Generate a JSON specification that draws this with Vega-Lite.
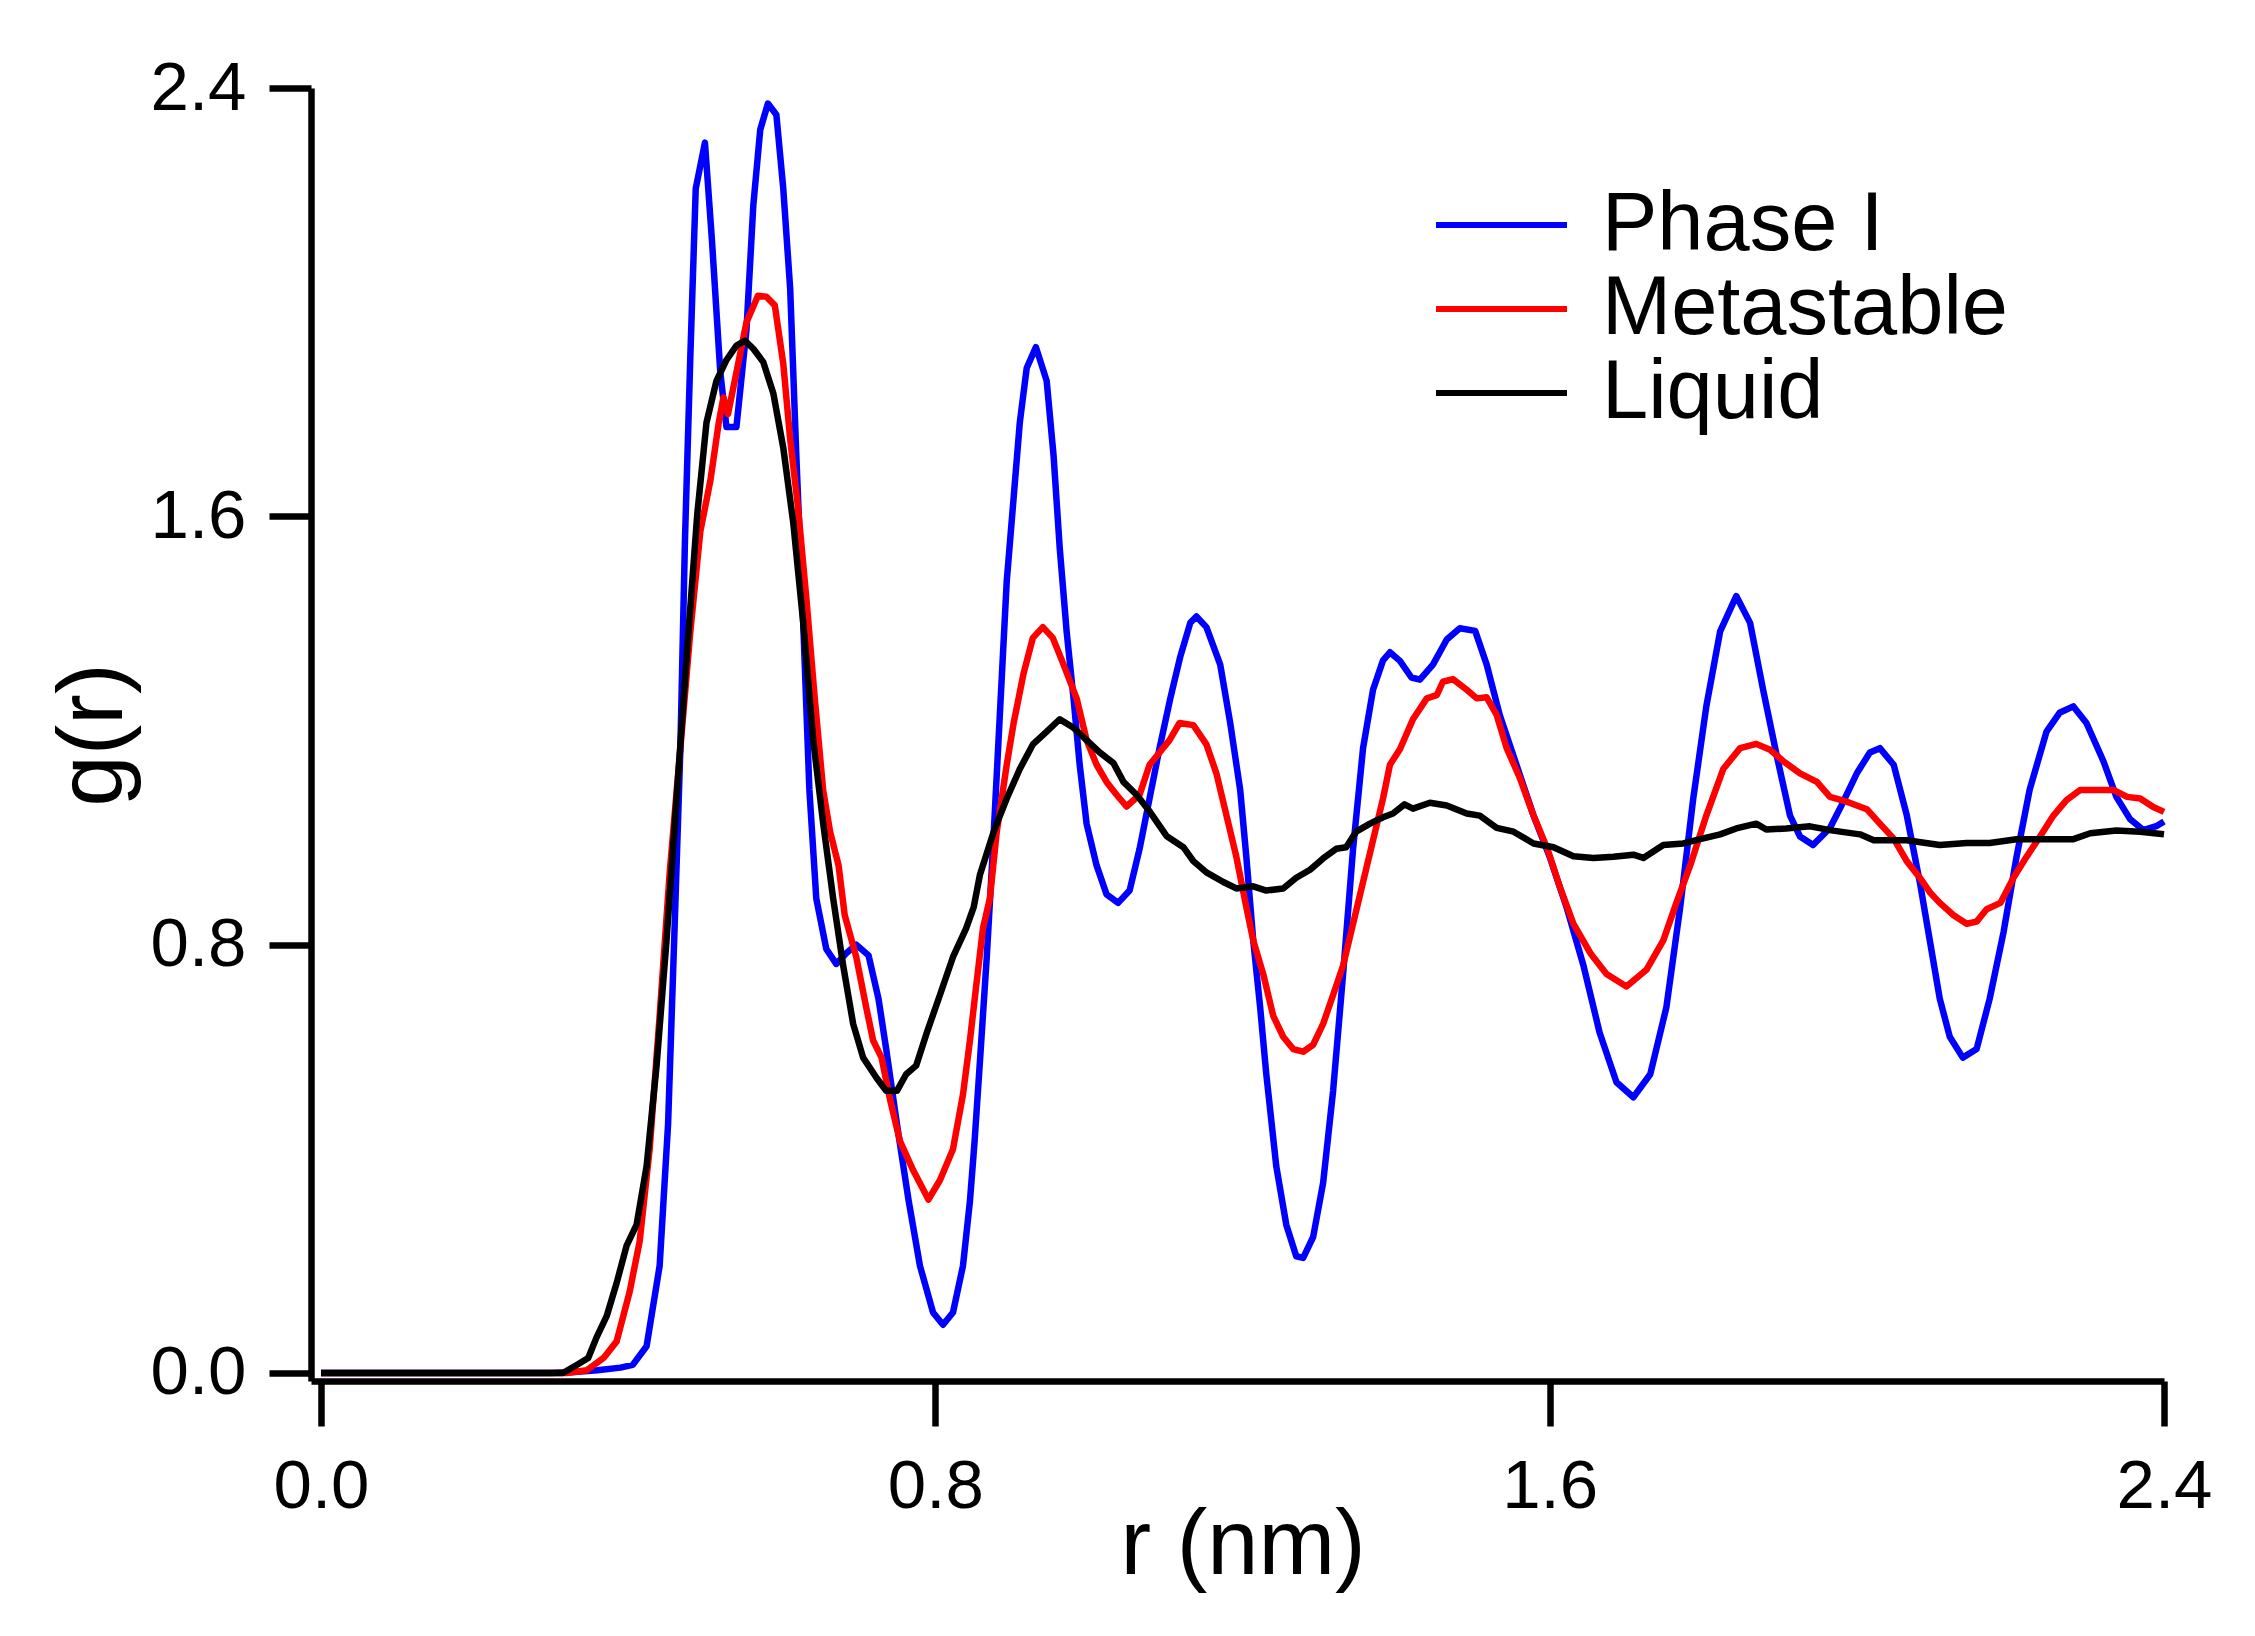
{
  "$schema": "https://vega.github.io/schema/vega-lite/v6.json",
  "width": 1853,
  "height": 1293,
  "autosize": {"type": "none"},
  "padding": {"left": 311, "top": 88, "right": 91, "bottom": 255},
  "background": "white",
  "config": {
    "view": {"stroke": null},
    "font": "Liberation Sans",
    "axis": {
      "grid": false,
      "domainColor": "black",
      "domainWidth": 6.5,
      "tickColor": "black",
      "tickWidth": 6.5,
      "labelFont": "Liberation Sans",
      "labelFontSize": 69,
      "labelColor": "black",
      "titleFont": "Liberation Sans",
      "titleFontSize": 92,
      "titleFontWeight": "normal",
      "titleColor": "black",
      "labelOverlap": false,
      "labelFlush": false,
      "labelBound": false
    },
    "legend": {
      "labelFont": "Liberation Sans",
      "labelFontSize": 83,
      "labelColor": "black",
      "labelLimit": 0
    }
  },
  "data": {
    "values": [
      {"r": 0, "g": 0, "phase": "Phase I"},
      {"r": 0.30, "g": 0, "phase": "Phase I"},
      {"r": 0.33, "g": 0.002, "phase": "Phase I"},
      {"r": 0.36, "g": 0.005, "phase": "Phase I"},
      {"r": 0.39, "g": 0.01, "phase": "Phase I"},
      {"r": 0.406, "g": 0.015, "phase": "Phase I"},
      {"r": 0.424, "g": 0.05, "phase": "Phase I"},
      {"r": 0.441, "g": 0.2, "phase": "Phase I"},
      {"r": 0.452, "g": 0.465, "phase": "Phase I"},
      {"r": 0.461, "g": 0.855, "phase": "Phase I"},
      {"r": 0.468, "g": 1.167, "phase": "Phase I"},
      {"r": 0.474, "g": 1.557, "phase": "Phase I"},
      {"r": 0.481, "g": 1.90, "phase": "Phase I"},
      {"r": 0.488, "g": 2.212, "phase": "Phase I"},
      {"r": 0.500, "g": 2.298, "phase": "Phase I"},
      {"r": 0.509, "g": 2.118, "phase": "Phase I"},
      {"r": 0.520, "g": 1.869, "phase": "Phase I"},
      {"r": 0.528, "g": 1.767, "phase": "Phase I"},
      {"r": 0.541, "g": 1.767, "phase": "Phase I"},
      {"r": 0.554, "g": 1.947, "phase": "Phase I"},
      {"r": 0.563, "g": 2.181, "phase": "Phase I"},
      {"r": 0.572, "g": 2.322, "phase": "Phase I"},
      {"r": 0.582, "g": 2.371, "phase": "Phase I"},
      {"r": 0.593, "g": 2.35, "phase": "Phase I"},
      {"r": 0.602, "g": 2.212, "phase": "Phase I"},
      {"r": 0.611, "g": 2.025, "phase": "Phase I"},
      {"r": 0.619, "g": 1.713, "phase": "Phase I"},
      {"r": 0.628, "g": 1.40, "phase": "Phase I"},
      {"r": 0.636, "g": 1.089, "phase": "Phase I"},
      {"r": 0.645, "g": 0.886, "phase": "Phase I"},
      {"r": 0.658, "g": 0.792, "phase": "Phase I"},
      {"r": 0.671, "g": 0.764, "phase": "Phase I"},
      {"r": 0.684, "g": 0.784, "phase": "Phase I"},
      {"r": 0.697, "g": 0.80, "phase": "Phase I"},
      {"r": 0.713, "g": 0.78, "phase": "Phase I"},
      {"r": 0.726, "g": 0.699, "phase": "Phase I"},
      {"r": 0.736, "g": 0.605, "phase": "Phase I"},
      {"r": 0.750, "g": 0.465, "phase": "Phase I"},
      {"r": 0.765, "g": 0.324, "phase": "Phase I"},
      {"r": 0.780, "g": 0.20, "phase": "Phase I"},
      {"r": 0.797, "g": 0.113, "phase": "Phase I"},
      {"r": 0.810, "g": 0.09, "phase": "Phase I"},
      {"r": 0.823, "g": 0.113, "phase": "Phase I"},
      {"r": 0.836, "g": 0.20, "phase": "Phase I"},
      {"r": 0.845, "g": 0.32, "phase": "Phase I"},
      {"r": 0.851, "g": 0.43, "phase": "Phase I"},
      {"r": 0.858, "g": 0.58, "phase": "Phase I"},
      {"r": 0.867, "g": 0.777, "phase": "Phase I"},
      {"r": 0.875, "g": 0.979, "phase": "Phase I"},
      {"r": 0.884, "g": 1.229, "phase": "Phase I"},
      {"r": 0.893, "g": 1.479, "phase": "Phase I"},
      {"r": 0.902, "g": 1.635, "phase": "Phase I"},
      {"r": 0.910, "g": 1.775, "phase": "Phase I"},
      {"r": 0.919, "g": 1.877, "phase": "Phase I"},
      {"r": 0.931, "g": 1.916, "phase": "Phase I"},
      {"r": 0.945, "g": 1.853, "phase": "Phase I"},
      {"r": 0.954, "g": 1.713, "phase": "Phase I"},
      {"r": 0.962, "g": 1.541, "phase": "Phase I"},
      {"r": 0.971, "g": 1.385, "phase": "Phase I"},
      {"r": 0.980, "g": 1.260, "phase": "Phase I"},
      {"r": 0.988, "g": 1.136, "phase": "Phase I"},
      {"r": 0.997, "g": 1.026, "phase": "Phase I"},
      {"r": 1.010, "g": 0.948, "phase": "Phase I"},
      {"r": 1.023, "g": 0.894, "phase": "Phase I"},
      {"r": 1.038, "g": 0.878, "phase": "Phase I"},
      {"r": 1.053, "g": 0.901, "phase": "Phase I"},
      {"r": 1.066, "g": 0.979, "phase": "Phase I"},
      {"r": 1.079, "g": 1.073, "phase": "Phase I"},
      {"r": 1.092, "g": 1.167, "phase": "Phase I"},
      {"r": 1.106, "g": 1.260, "phase": "Phase I"},
      {"r": 1.119, "g": 1.338, "phase": "Phase I"},
      {"r": 1.132, "g": 1.401, "phase": "Phase I"},
      {"r": 1.140, "g": 1.413, "phase": "Phase I"},
      {"r": 1.153, "g": 1.393, "phase": "Phase I"},
      {"r": 1.171, "g": 1.323, "phase": "Phase I"},
      {"r": 1.184, "g": 1.214, "phase": "Phase I"},
      {"r": 1.197, "g": 1.089, "phase": "Phase I"},
      {"r": 1.205, "g": 0.964, "phase": "Phase I"},
      {"r": 1.214, "g": 0.808, "phase": "Phase I"},
      {"r": 1.223, "g": 0.683, "phase": "Phase I"},
      {"r": 1.231, "g": 0.558, "phase": "Phase I"},
      {"r": 1.244, "g": 0.386, "phase": "Phase I"},
      {"r": 1.257, "g": 0.277, "phase": "Phase I"},
      {"r": 1.270, "g": 0.218, "phase": "Phase I"},
      {"r": 1.279, "g": 0.215, "phase": "Phase I"},
      {"r": 1.292, "g": 0.254, "phase": "Phase I"},
      {"r": 1.305, "g": 0.355, "phase": "Phase I"},
      {"r": 1.318, "g": 0.527, "phase": "Phase I"},
      {"r": 1.331, "g": 0.745, "phase": "Phase I"},
      {"r": 1.344, "g": 0.979, "phase": "Phase I"},
      {"r": 1.357, "g": 1.167, "phase": "Phase I"},
      {"r": 1.370, "g": 1.276, "phase": "Phase I"},
      {"r": 1.383, "g": 1.331, "phase": "Phase I"},
      {"r": 1.392, "g": 1.346, "phase": "Phase I"},
      {"r": 1.405, "g": 1.33, "phase": "Phase I"},
      {"r": 1.420, "g": 1.299, "phase": "Phase I"},
      {"r": 1.431, "g": 1.295, "phase": "Phase I"},
      {"r": 1.448, "g": 1.323, "phase": "Phase I"},
      {"r": 1.466, "g": 1.370, "phase": "Phase I"},
      {"r": 1.483, "g": 1.391, "phase": "Phase I"},
      {"r": 1.503, "g": 1.386, "phase": "Phase I"},
      {"r": 1.518, "g": 1.323, "phase": "Phase I"},
      {"r": 1.535, "g": 1.229, "phase": "Phase I"},
      {"r": 1.557, "g": 1.135, "phase": "Phase I"},
      {"r": 1.579, "g": 1.041, "phase": "Phase I"},
      {"r": 1.600, "g": 0.964, "phase": "Phase I"},
      {"r": 1.622, "g": 0.870, "phase": "Phase I"},
      {"r": 1.644, "g": 0.761, "phase": "Phase I"},
      {"r": 1.665, "g": 0.636, "phase": "Phase I"},
      {"r": 1.687, "g": 0.543, "phase": "Phase I"},
      {"r": 1.709, "g": 0.515, "phase": "Phase I"},
      {"r": 1.731, "g": 0.558, "phase": "Phase I"},
      {"r": 1.752, "g": 0.683, "phase": "Phase I"},
      {"r": 1.770, "g": 0.870, "phase": "Phase I"},
      {"r": 1.787, "g": 1.073, "phase": "Phase I"},
      {"r": 1.804, "g": 1.245, "phase": "Phase I"},
      {"r": 1.822, "g": 1.385, "phase": "Phase I"},
      {"r": 1.843, "g": 1.451, "phase": "Phase I"},
      {"r": 1.861, "g": 1.401, "phase": "Phase I"},
      {"r": 1.878, "g": 1.276, "phase": "Phase I"},
      {"r": 1.896, "g": 1.151, "phase": "Phase I"},
      {"r": 1.913, "g": 1.041, "phase": "Phase I"},
      {"r": 1.926, "g": 1.002, "phase": "Phase I"},
      {"r": 1.943, "g": 0.986, "phase": "Phase I"},
      {"r": 1.965, "g": 1.018, "phase": "Phase I"},
      {"r": 1.980, "g": 1.06, "phase": "Phase I"},
      {"r": 2.000, "g": 1.12, "phase": "Phase I"},
      {"r": 2.017, "g": 1.159, "phase": "Phase I"},
      {"r": 2.030, "g": 1.167, "phase": "Phase I"},
      {"r": 2.048, "g": 1.136, "phase": "Phase I"},
      {"r": 2.065, "g": 1.042, "phase": "Phase I"},
      {"r": 2.082, "g": 0.917, "phase": "Phase I"},
      {"r": 2.095, "g": 0.808, "phase": "Phase I"},
      {"r": 2.108, "g": 0.699, "phase": "Phase I"},
      {"r": 2.121, "g": 0.628, "phase": "Phase I"},
      {"r": 2.138, "g": 0.589, "phase": "Phase I"},
      {"r": 2.156, "g": 0.605, "phase": "Phase I"},
      {"r": 2.173, "g": 0.699, "phase": "Phase I"},
      {"r": 2.191, "g": 0.823, "phase": "Phase I"},
      {"r": 2.208, "g": 0.964, "phase": "Phase I"},
      {"r": 2.225, "g": 1.089, "phase": "Phase I"},
      {"r": 2.247, "g": 1.198, "phase": "Phase I"},
      {"r": 2.264, "g": 1.233, "phase": "Phase I"},
      {"r": 2.282, "g": 1.245, "phase": "Phase I"},
      {"r": 2.299, "g": 1.214, "phase": "Phase I"},
      {"r": 2.321, "g": 1.143, "phase": "Phase I"},
      {"r": 2.338, "g": 1.076, "phase": "Phase I"},
      {"r": 2.356, "g": 1.034, "phase": "Phase I"},
      {"r": 2.373, "g": 1.014, "phase": "Phase I"},
      {"r": 2.391, "g": 1.022, "phase": "Phase I"},
      {"r": 2.400, "g": 1.03, "phase": "Phase I"},

      {"r": 0, "g": 0, "phase": "Metastable"},
      {"r": 0.32, "g": 0, "phase": "Metastable"},
      {"r": 0.346, "g": 0.005, "phase": "Metastable"},
      {"r": 0.368, "g": 0.028, "phase": "Metastable"},
      {"r": 0.385, "g": 0.059, "phase": "Metastable"},
      {"r": 0.402, "g": 0.152, "phase": "Metastable"},
      {"r": 0.415, "g": 0.246, "phase": "Metastable"},
      {"r": 0.428, "g": 0.418, "phase": "Metastable"},
      {"r": 0.441, "g": 0.667, "phase": "Metastable"},
      {"r": 0.454, "g": 0.933, "phase": "Metastable"},
      {"r": 0.467, "g": 1.151, "phase": "Metastable"},
      {"r": 0.481, "g": 1.385, "phase": "Metastable"},
      {"r": 0.494, "g": 1.572, "phase": "Metastable"},
      {"r": 0.507, "g": 1.666, "phase": "Metastable"},
      {"r": 0.518, "g": 1.775, "phase": "Metastable"},
      {"r": 0.524, "g": 1.822, "phase": "Metastable"},
      {"r": 0.530, "g": 1.791, "phase": "Metastable"},
      {"r": 0.541, "g": 1.869, "phase": "Metastable"},
      {"r": 0.554, "g": 1.962, "phase": "Metastable"},
      {"r": 0.569, "g": 2.012, "phase": "Metastable"},
      {"r": 0.580, "g": 2.01, "phase": "Metastable"},
      {"r": 0.591, "g": 1.994, "phase": "Metastable"},
      {"r": 0.602, "g": 1.885, "phase": "Metastable"},
      {"r": 0.611, "g": 1.744, "phase": "Metastable"},
      {"r": 0.621, "g": 1.619, "phase": "Metastable"},
      {"r": 0.632, "g": 1.448, "phase": "Metastable"},
      {"r": 0.643, "g": 1.26, "phase": "Metastable"},
      {"r": 0.654, "g": 1.088, "phase": "Metastable"},
      {"r": 0.663, "g": 1.011, "phase": "Metastable"},
      {"r": 0.674, "g": 0.948, "phase": "Metastable"},
      {"r": 0.682, "g": 0.855, "phase": "Metastable"},
      {"r": 0.697, "g": 0.777, "phase": "Metastable"},
      {"r": 0.710, "g": 0.683, "phase": "Metastable"},
      {"r": 0.719, "g": 0.621, "phase": "Metastable"},
      {"r": 0.730, "g": 0.589, "phase": "Metastable"},
      {"r": 0.741, "g": 0.511, "phase": "Metastable"},
      {"r": 0.754, "g": 0.433, "phase": "Metastable"},
      {"r": 0.771, "g": 0.379, "phase": "Metastable"},
      {"r": 0.791, "g": 0.324, "phase": "Metastable"},
      {"r": 0.806, "g": 0.36, "phase": "Metastable"},
      {"r": 0.823, "g": 0.418, "phase": "Metastable"},
      {"r": 0.836, "g": 0.52, "phase": "Metastable"},
      {"r": 0.845, "g": 0.62, "phase": "Metastable"},
      {"r": 0.853, "g": 0.72, "phase": "Metastable"},
      {"r": 0.862, "g": 0.83, "phase": "Metastable"},
      {"r": 0.871, "g": 0.886, "phase": "Metastable"},
      {"r": 0.880, "g": 1.011, "phase": "Metastable"},
      {"r": 0.893, "g": 1.136, "phase": "Metastable"},
      {"r": 0.902, "g": 1.214, "phase": "Metastable"},
      {"r": 0.915, "g": 1.307, "phase": "Metastable"},
      {"r": 0.927, "g": 1.373, "phase": "Metastable"},
      {"r": 0.940, "g": 1.393, "phase": "Metastable"},
      {"r": 0.953, "g": 1.373, "phase": "Metastable"},
      {"r": 0.967, "g": 1.323, "phase": "Metastable"},
      {"r": 0.984, "g": 1.26, "phase": "Metastable"},
      {"r": 0.997, "g": 1.182, "phase": "Metastable"},
      {"r": 1.010, "g": 1.136, "phase": "Metastable"},
      {"r": 1.023, "g": 1.104, "phase": "Metastable"},
      {"r": 1.036, "g": 1.080, "phase": "Metastable"},
      {"r": 1.049, "g": 1.058, "phase": "Metastable"},
      {"r": 1.066, "g": 1.08, "phase": "Metastable"},
      {"r": 1.079, "g": 1.136, "phase": "Metastable"},
      {"r": 1.092, "g": 1.159, "phase": "Metastable"},
      {"r": 1.105, "g": 1.182, "phase": "Metastable"},
      {"r": 1.118, "g": 1.214, "phase": "Metastable"},
      {"r": 1.136, "g": 1.21, "phase": "Metastable"},
      {"r": 1.153, "g": 1.174, "phase": "Metastable"},
      {"r": 1.166, "g": 1.12, "phase": "Metastable"},
      {"r": 1.179, "g": 1.042, "phase": "Metastable"},
      {"r": 1.192, "g": 0.964, "phase": "Metastable"},
      {"r": 1.205, "g": 0.870, "phase": "Metastable"},
      {"r": 1.214, "g": 0.808, "phase": "Metastable"},
      {"r": 1.227, "g": 0.745, "phase": "Metastable"},
      {"r": 1.240, "g": 0.667, "phase": "Metastable"},
      {"r": 1.253, "g": 0.628, "phase": "Metastable"},
      {"r": 1.266, "g": 0.605, "phase": "Metastable"},
      {"r": 1.279, "g": 0.600, "phase": "Metastable"},
      {"r": 1.292, "g": 0.613, "phase": "Metastable"},
      {"r": 1.305, "g": 0.652, "phase": "Metastable"},
      {"r": 1.318, "g": 0.706, "phase": "Metastable"},
      {"r": 1.331, "g": 0.761, "phase": "Metastable"},
      {"r": 1.344, "g": 0.839, "phase": "Metastable"},
      {"r": 1.357, "g": 0.917, "phase": "Metastable"},
      {"r": 1.370, "g": 0.995, "phase": "Metastable"},
      {"r": 1.383, "g": 1.073, "phase": "Metastable"},
      {"r": 1.392, "g": 1.136, "phase": "Metastable"},
      {"r": 1.405, "g": 1.165, "phase": "Metastable"},
      {"r": 1.422, "g": 1.221, "phase": "Metastable"},
      {"r": 1.440, "g": 1.26, "phase": "Metastable"},
      {"r": 1.453, "g": 1.266, "phase": "Metastable"},
      {"r": 1.461, "g": 1.291, "phase": "Metastable"},
      {"r": 1.474, "g": 1.296, "phase": "Metastable"},
      {"r": 1.492, "g": 1.276, "phase": "Metastable"},
      {"r": 1.505, "g": 1.26, "phase": "Metastable"},
      {"r": 1.518, "g": 1.262, "phase": "Metastable"},
      {"r": 1.531, "g": 1.229, "phase": "Metastable"},
      {"r": 1.544, "g": 1.167, "phase": "Metastable"},
      {"r": 1.561, "g": 1.112, "phase": "Metastable"},
      {"r": 1.579, "g": 1.041, "phase": "Metastable"},
      {"r": 1.597, "g": 0.979, "phase": "Metastable"},
      {"r": 1.613, "g": 0.909, "phase": "Metastable"},
      {"r": 1.631, "g": 0.839, "phase": "Metastable"},
      {"r": 1.653, "g": 0.784, "phase": "Metastable"},
      {"r": 1.674, "g": 0.745, "phase": "Metastable"},
      {"r": 1.700, "g": 0.722, "phase": "Metastable"},
      {"r": 1.726, "g": 0.753, "phase": "Metastable"},
      {"r": 1.748, "g": 0.808, "phase": "Metastable"},
      {"r": 1.765, "g": 0.878, "phase": "Metastable"},
      {"r": 1.783, "g": 0.948, "phase": "Metastable"},
      {"r": 1.804, "g": 1.041, "phase": "Metastable"},
      {"r": 1.826, "g": 1.128, "phase": "Metastable"},
      {"r": 1.848, "g": 1.167, "phase": "Metastable"},
      {"r": 1.869, "g": 1.175, "phase": "Metastable"},
      {"r": 1.887, "g": 1.164, "phase": "Metastable"},
      {"r": 1.904, "g": 1.143, "phase": "Metastable"},
      {"r": 1.926, "g": 1.12, "phase": "Metastable"},
      {"r": 1.948, "g": 1.104, "phase": "Metastable"},
      {"r": 1.965, "g": 1.076, "phase": "Metastable"},
      {"r": 1.987, "g": 1.067, "phase": "Metastable"},
      {"r": 2.013, "g": 1.053, "phase": "Metastable"},
      {"r": 2.030, "g": 1.026, "phase": "Metastable"},
      {"r": 2.048, "g": 0.998, "phase": "Metastable"},
      {"r": 2.065, "g": 0.956, "phase": "Metastable"},
      {"r": 2.082, "g": 0.925, "phase": "Metastable"},
      {"r": 2.095, "g": 0.898, "phase": "Metastable"},
      {"r": 2.108, "g": 0.878, "phase": "Metastable"},
      {"r": 2.126, "g": 0.855, "phase": "Metastable"},
      {"r": 2.143, "g": 0.839, "phase": "Metastable"},
      {"r": 2.156, "g": 0.843, "phase": "Metastable"},
      {"r": 2.169, "g": 0.866, "phase": "Metastable"},
      {"r": 2.187, "g": 0.878, "phase": "Metastable"},
      {"r": 2.204, "g": 0.925, "phase": "Metastable"},
      {"r": 2.221, "g": 0.964, "phase": "Metastable"},
      {"r": 2.239, "g": 1.003, "phase": "Metastable"},
      {"r": 2.256, "g": 1.041, "phase": "Metastable"},
      {"r": 2.273, "g": 1.07, "phase": "Metastable"},
      {"r": 2.291, "g": 1.089, "phase": "Metastable"},
      {"r": 2.313, "g": 1.089, "phase": "Metastable"},
      {"r": 2.334, "g": 1.089, "phase": "Metastable"},
      {"r": 2.352, "g": 1.076, "phase": "Metastable"},
      {"r": 2.369, "g": 1.073, "phase": "Metastable"},
      {"r": 2.386, "g": 1.057, "phase": "Metastable"},
      {"r": 2.400, "g": 1.048, "phase": "Metastable"},

      {"r": 0, "g": 0, "phase": "Liquid"},
      {"r": 0.315, "g": 0, "phase": "Liquid"},
      {"r": 0.333, "g": 0.015, "phase": "Liquid"},
      {"r": 0.348, "g": 0.028, "phase": "Liquid"},
      {"r": 0.359, "g": 0.067, "phase": "Liquid"},
      {"r": 0.372, "g": 0.106, "phase": "Liquid"},
      {"r": 0.385, "g": 0.168, "phase": "Liquid"},
      {"r": 0.398, "g": 0.238, "phase": "Liquid"},
      {"r": 0.411, "g": 0.277, "phase": "Liquid"},
      {"r": 0.424, "g": 0.386, "phase": "Liquid"},
      {"r": 0.437, "g": 0.574, "phase": "Liquid"},
      {"r": 0.450, "g": 0.808, "phase": "Liquid"},
      {"r": 0.463, "g": 1.073, "phase": "Liquid"},
      {"r": 0.477, "g": 1.354, "phase": "Liquid"},
      {"r": 0.490, "g": 1.604, "phase": "Liquid"},
      {"r": 0.502, "g": 1.775, "phase": "Liquid"},
      {"r": 0.515, "g": 1.853, "phase": "Liquid"},
      {"r": 0.528, "g": 1.892, "phase": "Liquid"},
      {"r": 0.541, "g": 1.919, "phase": "Liquid"},
      {"r": 0.552, "g": 1.928, "phase": "Liquid"},
      {"r": 0.563, "g": 1.913, "phase": "Liquid"},
      {"r": 0.576, "g": 1.888, "phase": "Liquid"},
      {"r": 0.589, "g": 1.830, "phase": "Liquid"},
      {"r": 0.602, "g": 1.728, "phase": "Liquid"},
      {"r": 0.615, "g": 1.588, "phase": "Liquid"},
      {"r": 0.628, "g": 1.401, "phase": "Liquid"},
      {"r": 0.641, "g": 1.182, "phase": "Liquid"},
      {"r": 0.654, "g": 1.026, "phase": "Liquid"},
      {"r": 0.667, "g": 0.886, "phase": "Liquid"},
      {"r": 0.680, "g": 0.761, "phase": "Liquid"},
      {"r": 0.693, "g": 0.652, "phase": "Liquid"},
      {"r": 0.706, "g": 0.589, "phase": "Liquid"},
      {"r": 0.724, "g": 0.550, "phase": "Liquid"},
      {"r": 0.736, "g": 0.527, "phase": "Liquid"},
      {"r": 0.750, "g": 0.527, "phase": "Liquid"},
      {"r": 0.762, "g": 0.558, "phase": "Liquid"},
      {"r": 0.775, "g": 0.574, "phase": "Liquid"},
      {"r": 0.789, "g": 0.636, "phase": "Liquid"},
      {"r": 0.806, "g": 0.706, "phase": "Liquid"},
      {"r": 0.823, "g": 0.777, "phase": "Liquid"},
      {"r": 0.840, "g": 0.83, "phase": "Liquid"},
      {"r": 0.850, "g": 0.87, "phase": "Liquid"},
      {"r": 0.858, "g": 0.93, "phase": "Liquid"},
      {"r": 0.876, "g": 1.011, "phase": "Liquid"},
      {"r": 0.893, "g": 1.073, "phase": "Liquid"},
      {"r": 0.910, "g": 1.128, "phase": "Liquid"},
      {"r": 0.927, "g": 1.174, "phase": "Liquid"},
      {"r": 0.945, "g": 1.198, "phase": "Liquid"},
      {"r": 0.962, "g": 1.221, "phase": "Liquid"},
      {"r": 0.980, "g": 1.205, "phase": "Liquid"},
      {"r": 0.997, "g": 1.182, "phase": "Liquid"},
      {"r": 1.014, "g": 1.159, "phase": "Liquid"},
      {"r": 1.032, "g": 1.139, "phase": "Liquid"},
      {"r": 1.045, "g": 1.104, "phase": "Liquid"},
      {"r": 1.062, "g": 1.080, "phase": "Liquid"},
      {"r": 1.079, "g": 1.049, "phase": "Liquid"},
      {"r": 1.101, "g": 1.003, "phase": "Liquid"},
      {"r": 1.123, "g": 0.982, "phase": "Liquid"},
      {"r": 1.136, "g": 0.956, "phase": "Liquid"},
      {"r": 1.153, "g": 0.935, "phase": "Liquid"},
      {"r": 1.175, "g": 0.917, "phase": "Liquid"},
      {"r": 1.192, "g": 0.905, "phase": "Liquid"},
      {"r": 1.214, "g": 0.909, "phase": "Liquid"},
      {"r": 1.231, "g": 0.901, "phase": "Liquid"},
      {"r": 1.253, "g": 0.905, "phase": "Liquid"},
      {"r": 1.270, "g": 0.925, "phase": "Liquid"},
      {"r": 1.288, "g": 0.940, "phase": "Liquid"},
      {"r": 1.305, "g": 0.961, "phase": "Liquid"},
      {"r": 1.322, "g": 0.979, "phase": "Liquid"},
      {"r": 1.335, "g": 0.982, "phase": "Liquid"},
      {"r": 1.348, "g": 1.011, "phase": "Liquid"},
      {"r": 1.366, "g": 1.026, "phase": "Liquid"},
      {"r": 1.383, "g": 1.038, "phase": "Liquid"},
      {"r": 1.396, "g": 1.045, "phase": "Liquid"},
      {"r": 1.411, "g": 1.062, "phase": "Liquid"},
      {"r": 1.422, "g": 1.054, "phase": "Liquid"},
      {"r": 1.444, "g": 1.065, "phase": "Liquid"},
      {"r": 1.466, "g": 1.06, "phase": "Liquid"},
      {"r": 1.492, "g": 1.045, "phase": "Liquid"},
      {"r": 1.509, "g": 1.041, "phase": "Liquid"},
      {"r": 1.531, "g": 1.018, "phase": "Liquid"},
      {"r": 1.553, "g": 1.011, "phase": "Liquid"},
      {"r": 1.579, "g": 0.989, "phase": "Liquid"},
      {"r": 1.605, "g": 0.982, "phase": "Liquid"},
      {"r": 1.631, "g": 0.965, "phase": "Liquid"},
      {"r": 1.657, "g": 0.962, "phase": "Liquid"},
      {"r": 1.683, "g": 0.964, "phase": "Liquid"},
      {"r": 1.709, "g": 0.968, "phase": "Liquid"},
      {"r": 1.722, "g": 0.962, "phase": "Liquid"},
      {"r": 1.748, "g": 0.986, "phase": "Liquid"},
      {"r": 1.774, "g": 0.989, "phase": "Liquid"},
      {"r": 1.796, "g": 0.997, "phase": "Liquid"},
      {"r": 1.822, "g": 1.006, "phase": "Liquid"},
      {"r": 1.843, "g": 1.017, "phase": "Liquid"},
      {"r": 1.869, "g": 1.026, "phase": "Liquid"},
      {"r": 1.882, "g": 1.015, "phase": "Liquid"},
      {"r": 1.908, "g": 1.017, "phase": "Liquid"},
      {"r": 1.939, "g": 1.021, "phase": "Liquid"},
      {"r": 1.969, "g": 1.013, "phase": "Liquid"},
      {"r": 2.004, "g": 1.006, "phase": "Liquid"},
      {"r": 2.022, "g": 0.995, "phase": "Liquid"},
      {"r": 2.065, "g": 0.995, "phase": "Liquid"},
      {"r": 2.108, "g": 0.986, "phase": "Liquid"},
      {"r": 2.143, "g": 0.99, "phase": "Liquid"},
      {"r": 2.173, "g": 0.99, "phase": "Liquid"},
      {"r": 2.208, "g": 0.997, "phase": "Liquid"},
      {"r": 2.247, "g": 0.997, "phase": "Liquid"},
      {"r": 2.282, "g": 0.997, "phase": "Liquid"},
      {"r": 2.304, "g": 1.008, "phase": "Liquid"},
      {"r": 2.338, "g": 1.013, "phase": "Liquid"},
      {"r": 2.369, "g": 1.011, "phase": "Liquid"},
      {"r": 2.400, "g": 1.006, "phase": "Liquid"}
    ]
  },
  "mark": {"type": "line", "strokeWidth": 6.5, "strokeJoin": "round"},
  "encoding": {
    "x": {
      "field": "r",
      "type": "quantitative",
      "scale": {"domain": [-0.013, 2.4], "nice": false, "zero": false},
      "axis": {
        "title": "r (nm)",
        "values": [0, 0.8, 1.6, 2.4],
        "format": ".1f",
        "tickSize": 45,
        "labelPadding": 26,
        "titleBaseline": "alphabetic",
        "titleY": 192,
        "titleX": 931.6
      }
    },
    "y": {
      "field": "g",
      "type": "quantitative",
      "scale": {"domain": [-0.015, 2.4], "nice": false, "zero": false},
      "axis": {
        "title": "g(r)",
        "values": [0, 0.8, 1.6, 2.4],
        "format": ".1f",
        "tickSize": 42,
        "labelPadding": 23,
        "titleAngle": 270,
        "titleAlign": "center",
        "titleBaseline": "alphabetic",
        "titleX": -190,
        "titleY": 646.5
      }
    },
    "color": {
      "field": "phase",
      "type": "nominal",
      "sort": null,
      "scale": {
        "domain": ["Phase I", "Metastable", "Liquid"],
        "range": ["#0000ff", "#ff0000", "#000000"]
      },
      "legend": {
        "title": null,
        "orient": "none",
        "legendX": 1122,
        "legendY": 95,
        "padding": 0,
        "symbolType": "stroke",
        "symbolSize": 17161,
        "symbolStrokeWidth": 6,
        "clipHeight": 84,
        "rowPadding": 0,
        "labelOffset": 32,
        "labelFontSize": 83,
        "labelLimit": 0,
        "labelBaseline": "middle"
      }
    }
  }
}
